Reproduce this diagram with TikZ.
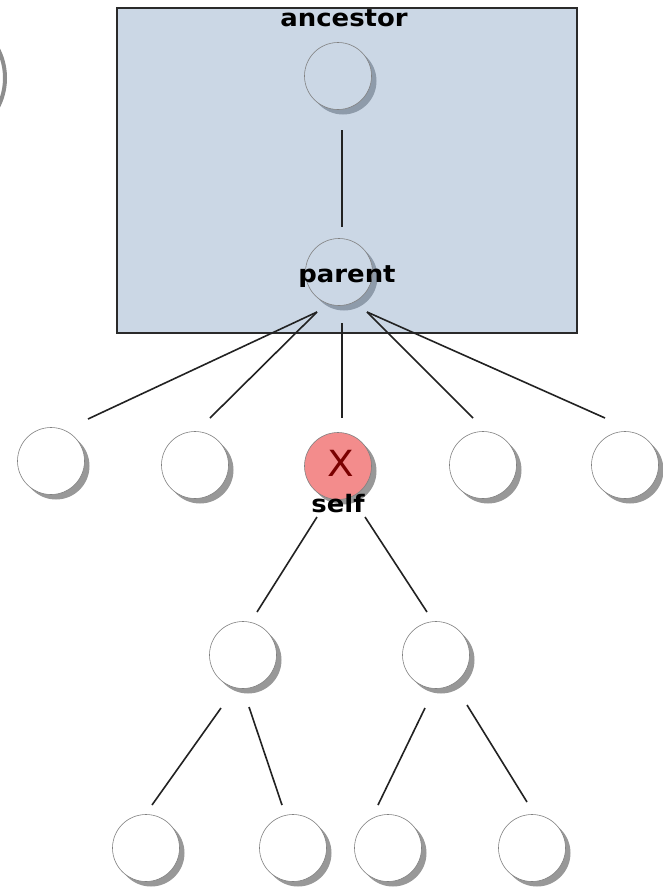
\documentclass[tikz,border=0pt]{standalone}
\usepackage{fontspec}
\setmainfont{DejaVu Sans}
\usetikzlibrary{calc,shadows}

\definecolor{boxfill}{HTML}{CBD7E5}
\definecolor{boxedge}{HTML}{2A2A2A}
\definecolor{boxshadow}{HTML}{8E9BAA}
\definecolor{plainshadow}{HTML}{989898}
\definecolor{nodeedge}{HTML}{808080}
\definecolor{linecol}{HTML}{222222}
\definecolor{selffill}{HTML}{F38C8C}
\definecolor{selfmark}{HTML}{7A0000}

\newcommand{\widetext}[1]{\scalebox{1.08}[1]{#1}}

\tikzset{
  treenode/.style={circle, draw=nodeedge, line width=0.6pt, minimum size=67pt,
    inner sep=0pt, fill=white,
    drop shadow={shadow xshift=5pt, shadow yshift=-5pt, fill=plainshadow, opacity=1}},
  innode/.style={circle, draw=nodeedge, line width=0.6pt, minimum size=67pt,
    inner sep=0pt, fill=boxfill,
    drop shadow={shadow xshift=5pt, shadow yshift=-5pt, fill=boxshadow, opacity=1}},
  selfnode/.style={treenode, fill=selffill},
  link/.style={draw=linecol, line width=1.6pt},
  tag/.style={font=\bfseries\fontsize{24}{24}\selectfont, inner sep=0pt, anchor=base},
}

\begin{document}
\begin{tikzpicture}[x=1pt, y=-1pt]
  \useasboundingbox (0,0) rectangle (663,894);
  \fill[white] (0,0) rectangle (663,894);

  % neighbouring tree, cut off at the left edge
  \begin{scope}
    \clip (0,0) rectangle (663,894);
    \draw[nodeedge!90, line width=4pt] (-58,78) circle[radius=63];
  \end{scope}

  % ancestor region
  \node[draw=boxedge, line width=1.5pt, fill=boxfill, minimum width=460pt,
        minimum height=325pt, inner sep=0pt] (region) at (347,170.5) {};

  \node[innode] (anc) at (338,76) {};
  \node[innode] (par) at (339,272) {};

  % children of parent
  \node[treenode] (c1) at (51,461) {};
  \node[treenode] (c2) at (195,465) {};
  \node[selfnode] (self) at (338,466) {};
  \node[treenode] (c4) at (483,465) {};
  \node[treenode] (c5) at (625,465) {};

  % children of self
  \node[treenode] (m1) at (243,655) {};
  \node[treenode] (m2) at (436,655) {};

  % grandchildren
  \node[treenode] (b1) at (146,848) {};
  \node[treenode] (b2) at (293,848) {};
  \node[treenode] (b3) at (388,848) {};
  \node[treenode] (b4) at (532,848) {};

  % connectors
  \draw[link] ($(anc)+(4,54)$) -- ($(par)+(3,-45)$);

  \draw[link] ($(par)+(-22,40)$) -- ($(c1)+(37,-42)$);
  \draw[link] ($(par)+(-22,40)$) -- ($(c2)+(15,-47)$);
  \draw[link] ($(par)+(3,51)$)   -- ($(self)+(4,-48)$);
  \draw[link] ($(par)+(28,40)$)  -- ($(c4)+(-10,-47)$);
  \draw[link] ($(par)+(28,40)$)  -- ($(c5)+(-20,-47)$);

  \draw[link] ($(self)+(-21,51)$) -- ($(m1)+(14,-43)$);
  \draw[link] ($(self)+(27,51)$)  -- ($(m2)+(-9,-43)$);

  \draw[link] ($(m1)+(-22,53)$) -- ($(b1)+(6,-43)$);
  \draw[link] ($(m1)+(6,52)$)   -- ($(b2)+(-11,-43)$);
  \draw[link] ($(m2)+(-11,53)$) -- ($(b3)+(-10,-43)$);
  \draw[link] ($(m2)+(31,50)$)  -- ($(b4)+(-5,-46)$);

  % labels
  \node[tag] (ancl) at (344,27) {\widetext{ancestor}};
  \node[tag] (parl) at (347,282) {\widetext{parent}};
  \node[tag] (selfl) at (338,512) {\widetext{self}};
  \node[font=\fontsize{36}{36}\selectfont, text=selfmark, inner sep=0pt]
    (mark) at (341,463) {\widetext{X}};
\end{tikzpicture}
\end{document}
